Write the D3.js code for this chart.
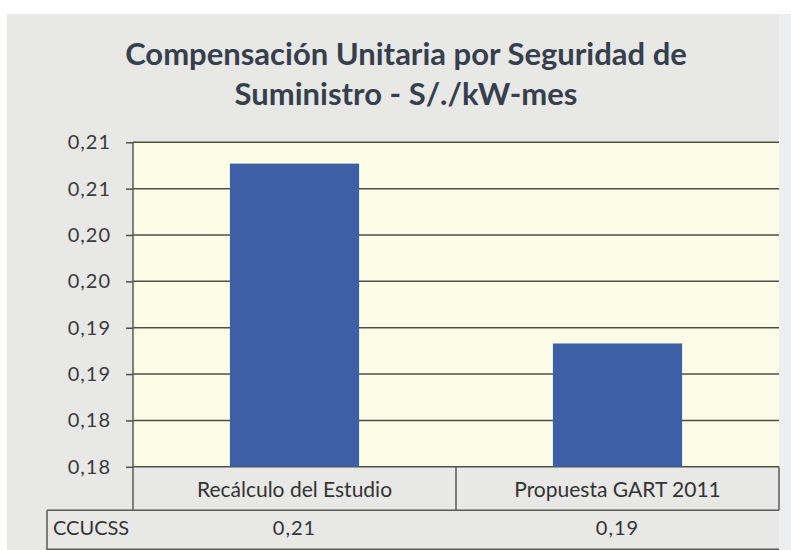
<!DOCTYPE html>
<html>
<head>
<meta charset="utf-8">
<script src="https://cdn.jsdelivr.net/npm/d3@7"></script>
<style>
  body { margin: 0; background: #ffffff; }
  text { font-family: Lato, "Open Sans", sans-serif; }
</style>
</head>
<body>
<div class="container"></div>
<script>
// chart data
var categories = ["Recálculo del Estudio", "Propuesta GART 2011"];
var values = [0.2127, 0.1933];
var seriesName = "CCUCSS";
var tableLabels = ["0,21", "0,19"];
var tickValues = [0.18, 0.185, 0.19, 0.195, 0.20, 0.205, 0.21, 0.215];
var tickLabels = ["0,18", "0,18", "0,19", "0,19", "0,20", "0,20", "0,21", "0,21"];
var titleLines = ["Compensación Unitaria por Seguridad de", "Suministro - S/./kW-mes"];

// svg container
var svgWidth = 791;
var svgHeight = 550;

// plot area
var plot = { left: 133, right: 779, top: 142.3, bottom: 466.8 };
var rowH = 43.5;

var svg = d3.select(".container")
  .append("svg")
  .attr("width", svgWidth)
  .attr("height", svgHeight);

// scanned page background
svg.append("rect")
  .attr("x", 7)
  .attr("y", 14)
  .attr("width", svgWidth - 7)
  .attr("height", svgHeight - 14)
  .attr("fill", "#e8e8e7");

svg.append("rect")
  .attr("x", plot.right)
  .attr("y", 14)
  .attr("width", svgWidth - plot.right)
  .attr("height", svgHeight - 14)
  .attr("fill", "#eceeef");

// title
svg.selectAll(".title")
  .data(titleLines)
  .enter()
  .append("text")
  .attr("class", "title")
  .attr("x", 406)
  .attr("y", (d, i) => 65 + i * 40)
  .attr("text-anchor", "middle")
  .attr("font-size", "31px")
  .attr("font-weight", "bold")
  .attr("fill", "#363f4b")
  .text(d => d);

// scales
var xScale = d3.scaleBand()
  .domain(categories)
  .range([plot.left, plot.right])
  .paddingInner(0.6)
  .paddingOuter(0.3);

var yScale = d3.scaleLinear()
  .domain([0.18, 0.215])
  .range([plot.bottom, plot.top]);

// plot background
svg.append("rect")
  .attr("x", plot.left)
  .attr("y", plot.top)
  .attr("width", plot.right - plot.left)
  .attr("height", plot.bottom - plot.top)
  .attr("fill", "#fdfce6");

// gridlines
svg.selectAll(".grid")
  .data(tickValues)
  .enter()
  .append("line")
  .attr("class", "grid")
  .attr("x1", plot.left)
  .attr("x2", plot.right)
  .attr("y1", d => yScale(d))
  .attr("y2", d => yScale(d))
  .attr("stroke", "#4d5046")
  .attr("stroke-width", 1.5);

// bars
svg.selectAll(".bar")
  .data(values)
  .enter()
  .append("rect")
  .attr("class", "bar")
  .attr("x", (d, i) => xScale(categories[i]))
  .attr("y", d => yScale(d))
  .attr("width", xScale.bandwidth())
  .attr("height", d => yScale(0.18) - yScale(d))
  .attr("fill", "#3d5fa6");

// y axis
var leftAxis = d3.axisLeft(yScale)
  .tickValues(tickValues)
  .tickFormat((d, i) => tickLabels[i])
  .tickSize(7)
  .tickPadding(15);

var yAxis = svg.append("g")
  .attr("transform", `translate(${plot.left}, 0)`)
  .call(leftAxis);

yAxis.select(".domain").remove();
yAxis.selectAll("line")
  .attr("stroke", "#4d5046")
  .attr("stroke-width", 1.5);
yAxis.selectAll("text")
  .attr("font-size", "20px")
  .attr("letter-spacing", "1px")
  .attr("fill", "#3a3a3a");

// data table borders
var border = "#5a5a5a";
var step = xScale.step();

svg.append("line")
  .attr("x1", plot.left).attr("x2", plot.left)
  .attr("y1", plot.top).attr("y2", plot.bottom + rowH)
  .attr("stroke", border).attr("stroke-width", 1.5);

categories.forEach(function(c, i) {
  svg.append("line")
    .attr("x1", plot.left + (i + 1) * step).attr("x2", plot.left + (i + 1) * step)
    .attr("y1", plot.bottom).attr("y2", plot.bottom + rowH)
    .attr("stroke", border).attr("stroke-width", 1.5);
});

svg.append("line")
  .attr("x1", 47).attr("x2", plot.right)
  .attr("y1", plot.bottom + rowH).attr("y2", plot.bottom + rowH)
  .attr("stroke", border).attr("stroke-width", 1.5);

svg.append("line")
  .attr("x1", 47).attr("x2", 47)
  .attr("y1", plot.bottom + rowH).attr("y2", svgHeight)
  .attr("stroke", border).attr("stroke-width", 1.5);

svg.append("line")
  .attr("x1", 47).attr("x2", plot.right)
  .attr("y1", plot.bottom + 2 * rowH - 4.5).attr("y2", plot.bottom + 2 * rowH - 4.5)
  .attr("stroke", border).attr("stroke-width", 1.5);

// category labels
svg.selectAll(".cat")
  .data(categories)
  .enter()
  .append("text")
  .attr("class", "cat")
  .attr("x", d => xScale(d) + xScale.bandwidth() / 2)
  .attr("y", plot.bottom + 30)
  .attr("text-anchor", "middle")
  .attr("font-size", "21px")
  .attr("fill", "#333333")
  .text(d => d);

// series row
svg.append("text")
  .attr("x", 53)
  .attr("y", plot.bottom + rowH + 25)
  .attr("font-size", "20px")
  .attr("fill", "#333333")
  .text(seriesName);

svg.selectAll(".val")
  .data(tableLabels)
  .enter()
  .append("text")
  .attr("class", "val")
  .attr("x", (d, i) => xScale(categories[i]) + xScale.bandwidth() / 2)
  .attr("y", plot.bottom + rowH + 25)
  .attr("text-anchor", "middle")
  .attr("font-size", "20px")
  .attr("letter-spacing", "1px")
  .attr("fill", "#333333")
  .text(d => d);
</script>
</body>
</html>
